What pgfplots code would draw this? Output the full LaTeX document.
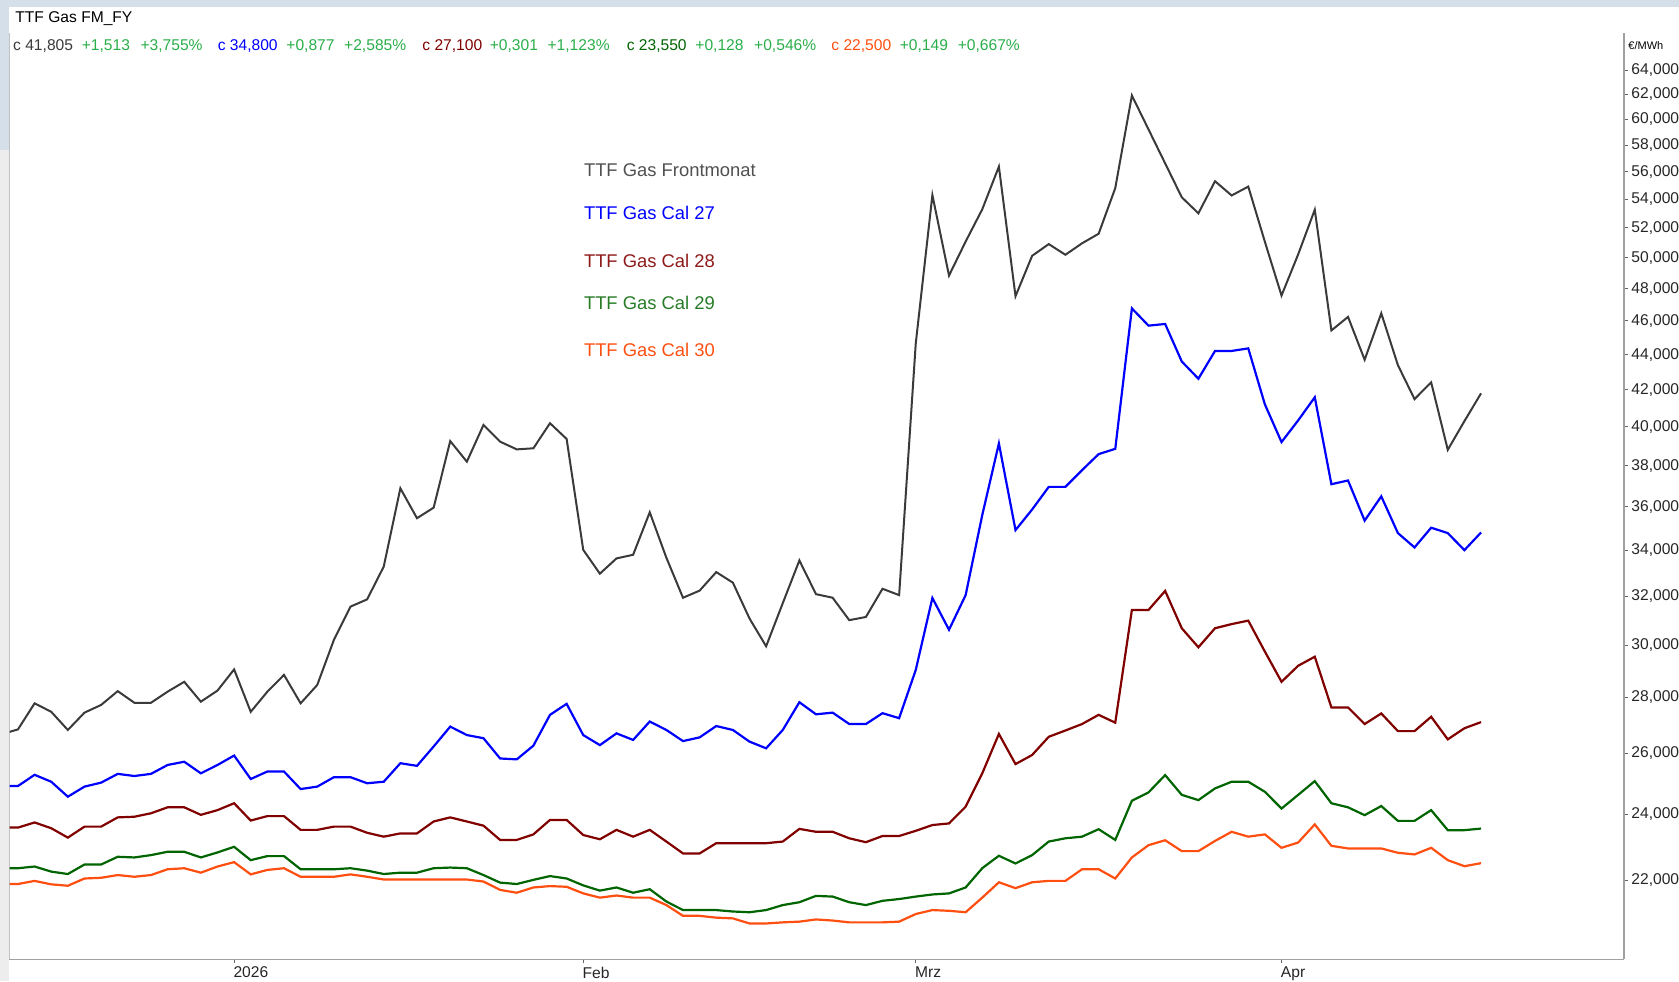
\documentclass[border=0pt]{standalone}
\usepackage{fontspec}
\setmainfont{Liberation Sans}
\usepackage{pgfplots}
\usepackage{pgfplotstable}
\pgfplotsset{compat=1.18}

\definecolor{fmline}{HTML}{3A3A3A}
\definecolor{fmtext}{HTML}{505050}
\definecolor{cal27}{HTML}{0000FF}
\definecolor{cal28}{HTML}{800000}
\definecolor{cal29}{HTML}{006400}
\definecolor{cal30}{HTML}{FF4F10}
\definecolor{chg}{HTML}{2AAE4A}
\definecolor{axisgray}{HTML}{A0A0A0}
\definecolor{bandblue}{HTML}{D5DFE9}
\definecolor{panelgray}{HTML}{EDEDED}

% trading days, i = 0 is the first full point, 13 = 2 Jan 2026
\pgfplotstableread{
i  fm     c27    c28    c29    c30
-1 26.67  24.91  23.58  22.35  21.89
0  26.84  24.91  23.58  22.35  21.89
1  27.78  25.28  23.74  22.40  21.98
2  27.47  25.05  23.56  22.25  21.88
3  26.82  24.56  23.27  22.18  21.84
4  27.44  24.89  23.61  22.46  22.05
5  27.72  25.02  23.61  22.46  22.07
6  28.23  25.31  23.90  22.69  22.15
7  27.80  25.24  23.92  22.67  22.10
8  27.80  25.31  24.03  22.74  22.15
9  28.21  25.61  24.22  22.84  22.32
10 28.58  25.72  24.22  22.84  22.35
11 27.84  25.33  23.98  22.67  22.22
12 28.25  25.61  24.13  22.82  22.40
13 29.05  25.93  24.35  22.99  22.53
14 27.47  25.14  23.80  22.59  22.17
15 28.21  25.39  23.94  22.71  22.30
16 28.84  25.39  23.94  22.71  22.35
17 27.78  24.81  23.51  22.32  22.10
18 28.46  24.89  23.51  22.32  22.10
19 30.20  25.20  23.61  22.32  22.10
20 31.56  25.20  23.61  22.35  22.17
21 31.86  25.00  23.42  22.28  22.10
22 33.27  25.05  23.30  22.18  22.02
23 36.89  25.67  23.40  22.22  22.02
24 35.46  25.58  23.40  22.22  22.02
25 35.96  26.24  23.77  22.35  22.02
26 39.26  26.94  23.90  22.37  22.02
27 38.21  26.64  23.77  22.35  22.02
28 40.10  26.53  23.64  22.15  21.96
29 39.23  25.83  23.20  21.93  21.72
30 38.83  25.80  23.20  21.89  21.64
31 38.89  26.27  23.37  22.01  21.79
32 40.19  27.36  23.82  22.12  21.83
33 39.37  27.76  23.82  22.05  21.81
34 34.01  26.64  23.35  21.85  21.62
35 32.96  26.29  23.22  21.70  21.50
36 33.63  26.70  23.51  21.79  21.56
37 33.79  26.47  23.30  21.64  21.50
38 35.74  27.12  23.51  21.74  21.50
39 33.66  26.82  23.15  21.39  21.29
40 31.93  26.43  22.79  21.15  20.99
41 32.23  26.56  22.79  21.15  20.99
42 33.03  26.96  23.10  21.15  20.94
43 32.57  26.82  23.10  21.11  20.92
44 31.07  26.41  23.10  21.09  20.78
45 29.95  26.18  23.10  21.15  20.78
46 31.70  26.82  23.15  21.29  20.81
47 33.54  27.82  23.54  21.37  20.83
48 32.08  27.38  23.45  21.55  20.89
49 31.93  27.44  23.45  21.53  20.86
50 31.00  27.03  23.25  21.37  20.81
51 31.13  27.03  23.13  21.29  20.81
52 32.31  27.42  23.32  21.41  20.81
53 32.04  27.24  23.32  21.46  20.83
54 44.65  29.03  23.48  21.53  21.04
55 54.30  31.92  23.66  21.59  21.15
56 48.83  30.61  23.71  21.62  21.13
57 51.07  32.04  24.24  21.79  21.09
58 53.29  35.61  25.33  22.35  21.50
59 56.38  39.14  26.68  22.72  21.94
60 47.52  34.91  25.64  22.49  21.77
61 50.12  35.87  25.95  22.74  21.94
62 50.90  36.96  26.58  23.15  21.98
63 50.19  36.96  26.80  23.25  21.98
64 50.95  37.78  27.03  23.30  22.32
65 51.60  38.59  27.36  23.53  22.32
66 54.80  38.86  27.08  23.20  22.05
67 61.92  46.76  31.42  24.43  22.67
68 59.21  45.71  31.42  24.70  23.04
69 56.62  45.81  32.22  25.27  23.19
70 54.14  43.60  30.67  24.62  22.86
71 53.01  42.62  29.91  24.45  22.86
72 55.30  44.21  30.67  24.83  23.17
73 54.27  44.21  30.84  25.05  23.45
74 54.91  44.36  30.98  25.05  23.30
75 51.05  41.20  29.74  24.72  23.37
76 47.56  39.21  28.58  24.18  22.96
77 50.21  40.34  29.19  24.62  23.12
78 53.26  41.59  29.54  25.07  23.68
79 45.42  37.09  27.63  24.35  23.02
80 46.24  37.27  27.63  24.22  22.94
81 43.70  35.35  27.03  23.97  22.94
82 46.46  36.50  27.41  24.26  22.94
83 43.39  34.77  26.78  23.79  22.81
84 41.49  34.12  26.78  23.79  22.76
85 42.42  35.02  27.29  24.13  22.96
86 38.81  34.77  26.49  23.50  22.59
87 40.30  34.00  26.88  23.50  22.41
88 41.805 34.80  27.10  23.55  22.50
}\ttfdata

\newcommand{\hdr}{\fontsize{7.8}{9}\selectfont}

\begin{document}
\begin{tikzpicture}
\useasboundingbox (0,0) rectangle (839.5pt,-490.5pt);
\clip (0,0) rectangle (839.5pt,-490.5pt);
\fill[panelgray] (0,0) rectangle (4.7pt,-490.5pt);
\fill[bandblue] (0,0) rectangle (4.7pt,-75pt);
\fill[bandblue] (0,0) rectangle (839.5pt,-3.5pt);

\begin{axis}[
    at={(4.75pt,-479.7pt)}, anchor=south west,
    scale only axis, width=807.25pt, height=463.2pt,
    ymode=log,
    xmin=-0.51, xmax=96.6, ymin=19.82, ymax=67.24,
    axis x line*=bottom, axis y line*=right,
    axis line style={-, draw=axisgray, line width=0.6pt},
    xtick={13,34,54,76}, xticklabels={2026,Feb,Mrz,Apr},
    ytick={22,24,26,28,30,32,34,36,38,40,42,44,46,48,50,52,54,56,58,60,62,64},
    yticklabels={{22,000},{24,000},{26,000},{28,000},{30,000},{32,000},{34,000},{36,000},{38,000},{40,000},{42,000},{44,000},{46,000},{48,000},{50,000},{52,000},{54,000},{56,000},{58,000},{60,000},{62,000},{64,000}},
    tick align=outside, major tick length=2pt, minor tick length=0pt,
    tick style={black!60, line width=0.4pt},
    every tick label/.append style={font=\hdr, text=black!85},
    yticklabel style={anchor=west, inner sep=0pt, xshift=1.5pt},
    xticklabel style={anchor=north west, inner sep=0pt, xshift=-0.5pt, yshift=-1.5pt},
]
\addplot[fmline, line width=1.0pt] table[x=i, y=fm] {\ttfdata};
\addplot[cal27, line width=1.1pt] table[x=i, y=c27] {\ttfdata};
\addplot[cal28, line width=1.1pt] table[x=i, y=c28] {\ttfdata};
\addplot[cal29, line width=1.1pt] table[x=i, y=c29] {\ttfdata};
\addplot[cal30, line width=1.1pt] table[x=i, y=c30] {\ttfdata};
\draw[axisgray, line width=0.6pt] (rel axis cs:0,0) -- (rel axis cs:0,1);
\end{axis}

% title and last-value line
\node[anchor=west, inner sep=0pt, font=\hdr] at (7.5pt,-9.5pt) {TTF Gas FM\_FY};
\begin{scope}[every node/.style={anchor=west, inner sep=0pt, font=\hdr}]
\node[text=fmline] at (6.4pt,-23pt) {c 41,805};
\node[text=chg] at (40.7pt,-23pt) {+1,513};
\node[text=chg] at (70.1pt,-23pt) {+3,755\%};
\node[text=cal27] at (108.7pt,-23pt) {c 34,800};
\node[text=chg] at (143pt,-23pt) {+0,877};
\node[text=chg] at (171.9pt,-23pt) {+2,585\%};
\node[text=cal28] at (211pt,-23pt) {c 27,100};
\node[text=chg] at (244.7pt,-23pt) {+0,301};
\node[text=chg] at (273.6pt,-23pt) {+1,123\%};
\node[text=cal29] at (313.2pt,-23pt) {c 23,550};
\node[text=chg] at (347.5pt,-23pt) {+0,128};
\node[text=chg] at (376.9pt,-23pt) {+0,546\%};
\node[text=cal30] at (415.5pt,-23pt) {c 22,500};
\node[text=chg] at (449.7pt,-23pt) {+0,149};
\node[text=chg] at (478.7pt,-23pt) {+0,667\%};
\end{scope}
\node[anchor=west, inner sep=0pt, font=\fontsize{5.5}{6}\selectfont] at (814pt,-23pt) {€/MWh};

% series names
\begin{scope}[every node/.style={anchor=west, inner sep=0pt, font=\fontsize{9.2}{11}\selectfont}]
\node[text=fmtext] at (291.8pt,-85.2pt) {TTF Gas Frontmonat};
\node[text=cal27] at (291.8pt,-106.6pt) {TTF Gas Cal 27};
\node[text=cal28!90!white] at (291.8pt,-130.4pt) {TTF Gas Cal 28};
\node[text=cal29!85!white] at (291.8pt,-151.3pt) {TTF Gas Cal 29};
\node[text=cal30] at (291.8pt,-175pt) {TTF Gas Cal 30};
\end{scope}
\end{tikzpicture}
\end{document}
